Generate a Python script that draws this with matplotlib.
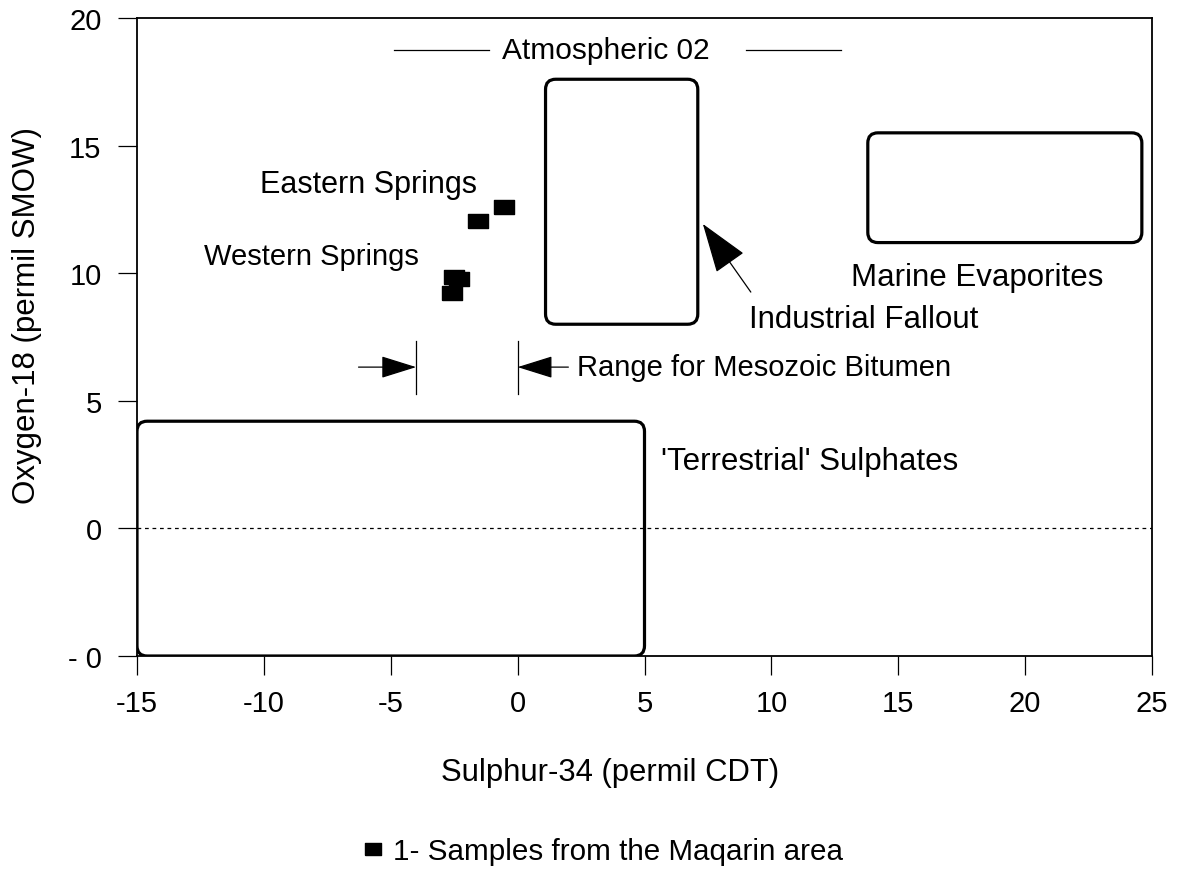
import matplotlib
matplotlib.use("Agg")
import matplotlib.pyplot as plt
from matplotlib.patches import FancyBboxPatch
from matplotlib.lines import Line2D

plt.rcParams['font.family'] = ['Liberation Sans', 'DejaVu Sans']

# Sample data: sulphur-34 (permil CDT) vs oxygen-18 (permil SMOW)
eastern_s34 = [-0.55, -1.56]
eastern_o18 = [12.6, 12.05]
western_s34 = [-2.52, -2.33, -2.60]
western_o18 = [9.85, 9.77, 9.24]

# Source fields: (x0, x1, y0, y1)
industrial_fallout = (1.1, 7.1, 8.0, 17.6)
marine_evaporites = (13.8, 24.6, 11.2, 15.5)
terrestrial_sulphates = (-15.0, 5.0, -5.0, 4.2)

# Mesozoic bitumen sulphur range
bitumen_range = (-4.0, 0.0)

xticks = [-15, -10, -5, 0, 5, 10, 15, 20, 25]
xticklabels = ["-15", "-10", "-5", "0", "5", "10", "15", "20", "25"]
yticks = [-5, 0, 5, 10, 15, 20]
yticklabels = ["- 0", "0", "5", "10", "15", "20"]

fig = plt.figure(figsize=(11.87, 8.70), dpi=100)
ax = fig.add_axes([137 / 1187, 1 - 657 / 870, (1152 - 137) / 1187, (657 - 19) / 870])
ax.set_xlim(-15, 25)
ax.set_ylim(-5, 20)

for sp in ax.spines.values():
    sp.set_linewidth(1.3)

ax.set_xticks(xticks)
ax.set_xticklabels(xticklabels)
ax.set_yticks(yticks)
ax.set_yticklabels(yticklabels)
ax.tick_params(direction='out', length=13.5, width=0.9, labelsize=21)
ax.tick_params(axis='y', pad=12)
ax.tick_params(axis='x', pad=10)

# zero reference line
ax.axhline(0, color='black', lw=0.9, ls=(0, (3, 3)), zorder=1)

# rounded source-field boxes
for (x0, x1, y0, y1) in (industrial_fallout, marine_evaporites, terrestrial_sulphates):
    box = FancyBboxPatch((x0, y0), x1 - x0, y1 - y0,
                         boxstyle="round,pad=0,rounding_size=0.4",
                         fill=False, ec='black', lw=2.3, zorder=2)
    ax.add_patch(box)

# sample markers (wide rectangles)
rect = [(-1, -0.7), (1, -0.7), (1, 0.7), (-1, 0.7), (-1, -0.7)]
ax.plot(eastern_s34 + western_s34, eastern_o18 + western_o18,
        ls='none', marker=rect, ms=14.4, color='black', mec='black', zorder=3)

ax.text(-10.15, 13.5, "Eastern Springs", fontsize=22, va='center', ha='left')
ax.text(-12.35, 10.67, "Western Springs", fontsize=21, va='center', ha='left')
ax.text(13.15, 9.85, "Marine Evaporites", fontsize=22.5, va='center', ha='left')
ax.text(9.1, 8.2, "Industrial Fallout", fontsize=22.5, va='center', ha='left')
ax.text(5.65, 2.65, "'Terrestrial' Sulphates", fontsize=22.5, va='center', ha='left')
ax.text(2.35, 6.32, "Range for Mesozoic Bitumen", fontsize=21, va='center', ha='left')

# atmospheric O2 label with flanking rules
ax.text(3.47, 18.75, "Atmospheric 02", fontsize=21.5, va='center', ha='center')
ax.plot([-4.89, -1.14], [18.75, 18.75], color='black', lw=0.9)
ax.plot([8.99, 12.74], [18.75, 18.75], color='black', lw=0.9)

# bitumen range bars and arrows
for xv in bitumen_range:
    ax.plot([xv, xv], [5.26, 7.34], color='black', lw=0.9)
head = dict(arrowstyle='-|>,head_length=1.6,head_width=0.5', color='black',
            lw=0.9, mutation_scale=14, shrinkA=0, shrinkB=0)
ax.annotate("", xy=(bitumen_range[0], 6.32), xytext=(-6.27, 6.32), arrowprops=head)
ax.annotate("", xy=(bitumen_range[1], 6.32), xytext=(2.0, 6.32), arrowprops=head)

# industrial fallout pointer
ax.annotate("", xy=(7.3, 11.93), xytext=(9.19, 9.26),
            arrowprops=dict(arrowstyle='-|>,head_length=1.6,head_width=0.55',
                            color='black', lw=0.9, mutation_scale=20,
                            shrinkA=0, shrinkB=0))

fig.text(27 / 1187, 1 - 316 / 870, "Oxygen-18 (permil SMOW)", rotation=90,
         fontsize=22.5, va='center', ha='center')
fig.text(610 / 1187, 1 - 773 / 870, "Sulphur-34 (permil CDT)",
         fontsize=22.3, va='center', ha='center')

# legend entry for the sample symbol
proxy = Line2D([], [], ls='none', marker=rect, ms=12.2, color='black',
               label='1- Samples from the Maqarin area')
fig.legend(handles=[proxy], loc='center left', frameon=False, fontsize=21.3,
           bbox_to_anchor=(363 / 1187, 1 - 852 / 870), handlelength=0.7,
           handletextpad=0.3, borderpad=0, borderaxespad=0)

fig.savefig("out.png", dpi=100)
